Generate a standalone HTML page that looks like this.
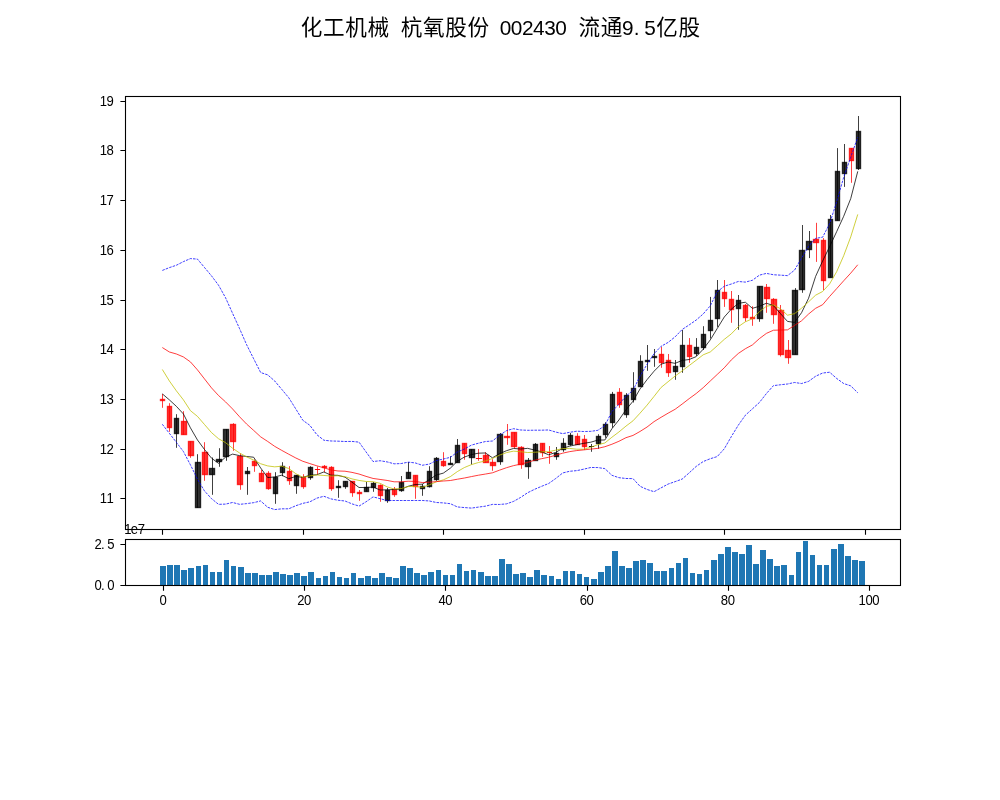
<!DOCTYPE html>
<html lang="zh"><head><meta charset="utf-8"><title>化工机械 杭氧股份 002430</title>
<style>html,body{margin:0;padding:0;background:#fff}svg{display:block}text{font-family:"Liberation Sans","Noto Sans CJK SC",sans-serif;fill:#000}.t{font-size:14.4px}.ln{fill:none;stroke-linejoin:round}</style></head><body>
<svg width="1000" height="800" viewBox="0 0 1000 800">
<rect width="1000" height="800" fill="#fff"/>
<text class="title"><tspan font-size="21.6" y="34.9" x="300.8 323.02 345.24 367.46">化工机械</tspan> <tspan font-size="21.6" y="34.9" x="400.79 423.01 445.23 467.45">杭氧股份</tspan> <tspan font-size="20.8" y="34.9" x="499.75 510.86 521.97 533.08 544.19 555.3">002430</tspan> <tspan font-size="21.6" y="34.9" x="578.55 600.77">流通</tspan><tspan font-size="20.8" y="34.9" x="621.96 633.66 644.18">9.5</tspan><tspan font-size="21.6" y="34.9" x="656.32 678.54">亿股</tspan></text>
<rect x="160" y="566" width="6" height="19" fill="#1f77b4"/>
<rect x="167" y="565" width="6" height="20" fill="#1f77b4"/>
<rect x="174" y="565" width="6" height="20" fill="#1f77b4"/>
<rect x="181" y="570" width="6" height="15" fill="#1f77b4"/>
<rect x="188" y="568" width="6" height="17" fill="#1f77b4"/>
<rect x="196" y="566" width="5" height="19" fill="#1f77b4"/>
<rect x="203" y="565" width="5" height="20" fill="#1f77b4"/>
<rect x="210" y="572" width="5" height="13" fill="#1f77b4"/>
<rect x="217" y="572" width="5" height="13" fill="#1f77b4"/>
<rect x="224" y="560" width="5" height="25" fill="#1f77b4"/>
<rect x="231" y="566" width="5" height="19" fill="#1f77b4"/>
<rect x="238" y="567" width="6" height="18" fill="#1f77b4"/>
<rect x="245" y="573" width="6" height="12" fill="#1f77b4"/>
<rect x="252" y="573" width="6" height="12" fill="#1f77b4"/>
<rect x="259" y="575" width="6" height="10" fill="#1f77b4"/>
<rect x="266" y="575" width="6" height="10" fill="#1f77b4"/>
<rect x="273" y="572" width="6" height="13" fill="#1f77b4"/>
<rect x="280" y="574" width="6" height="11" fill="#1f77b4"/>
<rect x="287" y="575" width="6" height="10" fill="#1f77b4"/>
<rect x="294" y="573" width="6" height="12" fill="#1f77b4"/>
<rect x="301" y="576" width="6" height="9" fill="#1f77b4"/>
<rect x="308" y="572" width="6" height="13" fill="#1f77b4"/>
<rect x="316" y="578" width="5" height="7" fill="#1f77b4"/>
<rect x="323" y="576" width="5" height="9" fill="#1f77b4"/>
<rect x="330" y="572" width="5" height="13" fill="#1f77b4"/>
<rect x="337" y="577" width="5" height="8" fill="#1f77b4"/>
<rect x="344" y="578" width="5" height="7" fill="#1f77b4"/>
<rect x="351" y="573" width="5" height="12" fill="#1f77b4"/>
<rect x="358" y="578" width="6" height="7" fill="#1f77b4"/>
<rect x="365" y="576" width="6" height="9" fill="#1f77b4"/>
<rect x="372" y="578" width="6" height="7" fill="#1f77b4"/>
<rect x="379" y="573" width="6" height="12" fill="#1f77b4"/>
<rect x="386" y="577" width="6" height="8" fill="#1f77b4"/>
<rect x="393" y="578" width="6" height="7" fill="#1f77b4"/>
<rect x="400" y="566" width="6" height="19" fill="#1f77b4"/>
<rect x="407" y="568" width="6" height="17" fill="#1f77b4"/>
<rect x="414" y="573" width="6" height="12" fill="#1f77b4"/>
<rect x="421" y="575" width="6" height="10" fill="#1f77b4"/>
<rect x="428" y="572" width="6" height="13" fill="#1f77b4"/>
<rect x="436" y="570" width="5" height="15" fill="#1f77b4"/>
<rect x="443" y="575" width="5" height="10" fill="#1f77b4"/>
<rect x="450" y="575" width="5" height="10" fill="#1f77b4"/>
<rect x="457" y="564" width="5" height="21" fill="#1f77b4"/>
<rect x="464" y="571" width="5" height="14" fill="#1f77b4"/>
<rect x="471" y="570" width="5" height="15" fill="#1f77b4"/>
<rect x="478" y="572" width="6" height="13" fill="#1f77b4"/>
<rect x="485" y="576" width="6" height="9" fill="#1f77b4"/>
<rect x="492" y="576" width="6" height="9" fill="#1f77b4"/>
<rect x="499" y="559" width="6" height="26" fill="#1f77b4"/>
<rect x="506" y="564" width="6" height="21" fill="#1f77b4"/>
<rect x="513" y="574" width="6" height="11" fill="#1f77b4"/>
<rect x="520" y="573" width="6" height="12" fill="#1f77b4"/>
<rect x="527" y="577" width="6" height="8" fill="#1f77b4"/>
<rect x="534" y="570" width="6" height="15" fill="#1f77b4"/>
<rect x="541" y="575" width="6" height="10" fill="#1f77b4"/>
<rect x="549" y="576" width="5" height="9" fill="#1f77b4"/>
<rect x="556" y="579" width="5" height="6" fill="#1f77b4"/>
<rect x="563" y="571" width="5" height="14" fill="#1f77b4"/>
<rect x="570" y="571" width="5" height="14" fill="#1f77b4"/>
<rect x="577" y="574" width="5" height="11" fill="#1f77b4"/>
<rect x="584" y="577" width="5" height="8" fill="#1f77b4"/>
<rect x="591" y="579" width="6" height="6" fill="#1f77b4"/>
<rect x="598" y="572" width="6" height="13" fill="#1f77b4"/>
<rect x="605" y="566" width="6" height="19" fill="#1f77b4"/>
<rect x="612" y="551" width="6" height="34" fill="#1f77b4"/>
<rect x="619" y="566" width="6" height="19" fill="#1f77b4"/>
<rect x="626" y="568" width="6" height="17" fill="#1f77b4"/>
<rect x="633" y="561" width="6" height="24" fill="#1f77b4"/>
<rect x="640" y="560" width="6" height="25" fill="#1f77b4"/>
<rect x="647" y="563" width="6" height="22" fill="#1f77b4"/>
<rect x="654" y="571" width="6" height="14" fill="#1f77b4"/>
<rect x="661" y="571" width="6" height="14" fill="#1f77b4"/>
<rect x="669" y="568" width="5" height="17" fill="#1f77b4"/>
<rect x="676" y="563" width="5" height="22" fill="#1f77b4"/>
<rect x="683" y="558" width="5" height="27" fill="#1f77b4"/>
<rect x="690" y="573" width="5" height="12" fill="#1f77b4"/>
<rect x="697" y="574" width="5" height="11" fill="#1f77b4"/>
<rect x="704" y="570" width="5" height="15" fill="#1f77b4"/>
<rect x="711" y="560" width="6" height="25" fill="#1f77b4"/>
<rect x="718" y="554" width="6" height="31" fill="#1f77b4"/>
<rect x="725" y="547" width="6" height="38" fill="#1f77b4"/>
<rect x="732" y="552" width="6" height="33" fill="#1f77b4"/>
<rect x="739" y="554" width="6" height="31" fill="#1f77b4"/>
<rect x="746" y="545" width="6" height="40" fill="#1f77b4"/>
<rect x="753" y="564" width="6" height="21" fill="#1f77b4"/>
<rect x="760" y="550" width="6" height="35" fill="#1f77b4"/>
<rect x="767" y="559" width="6" height="26" fill="#1f77b4"/>
<rect x="774" y="566" width="6" height="19" fill="#1f77b4"/>
<rect x="781" y="565" width="6" height="20" fill="#1f77b4"/>
<rect x="789" y="575" width="5" height="10" fill="#1f77b4"/>
<rect x="796" y="552" width="5" height="33" fill="#1f77b4"/>
<rect x="803" y="541" width="5" height="44" fill="#1f77b4"/>
<rect x="810" y="555" width="5" height="30" fill="#1f77b4"/>
<rect x="817" y="565" width="5" height="20" fill="#1f77b4"/>
<rect x="824" y="565" width="5" height="20" fill="#1f77b4"/>
<rect x="831" y="549" width="6" height="36" fill="#1f77b4"/>
<rect x="838" y="544" width="6" height="41" fill="#1f77b4"/>
<rect x="845" y="556" width="6" height="29" fill="#1f77b4"/>
<rect x="852" y="560" width="6" height="25" fill="#1f77b4"/>
<rect x="859" y="561" width="6" height="24" fill="#1f77b4"/>
<rect x="160.5" y="399.5" width="4" height="1" fill="rgba(255,0,0,0.8)" stroke="rgba(255,0,0,0.8)" stroke-width="1.39"/>
<rect x="167.5" y="406.5" width="4" height="21" fill="rgba(255,0,0,0.8)" stroke="rgba(255,0,0,0.8)" stroke-width="1.39"/>
<rect x="174.5" y="418.5" width="4" height="15" fill="rgba(0,0,0,0.8)" stroke="rgba(0,0,0,0.8)" stroke-width="1.39"/>
<rect x="181.5" y="421.5" width="5" height="13" fill="rgba(255,0,0,0.8)" stroke="rgba(255,0,0,0.8)" stroke-width="1.39"/>
<rect x="188.5" y="441.5" width="5" height="14" fill="rgba(255,0,0,0.8)" stroke="rgba(255,0,0,0.8)" stroke-width="1.39"/>
<rect x="195.5" y="462.5" width="5" height="45" fill="rgba(0,0,0,0.8)" stroke="rgba(0,0,0,0.8)" stroke-width="1.39"/>
<rect x="202.5" y="452.5" width="5" height="22" fill="rgba(255,0,0,0.8)" stroke="rgba(255,0,0,0.8)" stroke-width="1.39"/>
<rect x="209.5" y="468.5" width="5" height="6" fill="rgba(0,0,0,0.8)" stroke="rgba(0,0,0,0.8)" stroke-width="1.39"/>
<rect x="216.5" y="459.5" width="5" height="2" fill="rgba(0,0,0,0.8)" stroke="rgba(0,0,0,0.8)" stroke-width="1.39"/>
<rect x="223.5" y="429.5" width="5" height="27" fill="rgba(0,0,0,0.8)" stroke="rgba(0,0,0,0.8)" stroke-width="1.39"/>
<rect x="230.5" y="424.5" width="5" height="17" fill="rgba(255,0,0,0.8)" stroke="rgba(255,0,0,0.8)" stroke-width="1.39"/>
<rect x="237.5" y="456.5" width="5" height="28" fill="rgba(255,0,0,0.8)" stroke="rgba(255,0,0,0.8)" stroke-width="1.39"/>
<rect x="245.5" y="471.5" width="4" height="2" fill="rgba(0,0,0,0.8)" stroke="rgba(0,0,0,0.8)" stroke-width="1.39"/>
<rect x="252.5" y="461.5" width="4" height="4" fill="rgba(255,0,0,0.8)" stroke="rgba(255,0,0,0.8)" stroke-width="1.39"/>
<rect x="259.5" y="473.5" width="4" height="8" fill="rgba(255,0,0,0.8)" stroke="rgba(255,0,0,0.8)" stroke-width="1.39"/>
<rect x="266.5" y="473.5" width="4" height="15" fill="rgba(255,0,0,0.8)" stroke="rgba(255,0,0,0.8)" stroke-width="1.39"/>
<rect x="273.5" y="477.5" width="4" height="16" fill="rgba(0,0,0,0.8)" stroke="rgba(0,0,0,0.8)" stroke-width="1.39"/>
<rect x="280.5" y="466.5" width="4" height="6" fill="rgba(0,0,0,0.8)" stroke="rgba(0,0,0,0.8)" stroke-width="1.39"/>
<rect x="287.5" y="471.5" width="4" height="9" fill="rgba(255,0,0,0.8)" stroke="rgba(255,0,0,0.8)" stroke-width="1.39"/>
<rect x="294.5" y="475.5" width="4" height="10" fill="rgba(0,0,0,0.8)" stroke="rgba(0,0,0,0.8)" stroke-width="1.39"/>
<rect x="301.5" y="477.5" width="4" height="9" fill="rgba(255,0,0,0.8)" stroke="rgba(255,0,0,0.8)" stroke-width="1.39"/>
<rect x="308.5" y="467.5" width="4" height="10" fill="rgba(0,0,0,0.8)" stroke="rgba(0,0,0,0.8)" stroke-width="1.39"/>
<rect x="314.9" y="469" width="5.2" height="1" fill="rgba(255,0,0,0.96)"/>
<rect x="322.5" y="466.5" width="4" height="1" fill="rgba(255,0,0,0.8)" stroke="rgba(255,0,0,0.8)" stroke-width="1.39"/>
<rect x="329.5" y="467.5" width="4" height="21" fill="rgba(255,0,0,0.8)" stroke="rgba(255,0,0,0.8)" stroke-width="1.39"/>
<rect x="336.5" y="486.5" width="4" height="1" fill="rgba(0,0,0,0.8)" stroke="rgba(0,0,0,0.8)" stroke-width="1.39"/>
<rect x="343.5" y="481.5" width="4" height="5" fill="rgba(0,0,0,0.8)" stroke="rgba(0,0,0,0.8)" stroke-width="1.39"/>
<rect x="350.5" y="481.5" width="4" height="11" fill="rgba(255,0,0,0.8)" stroke="rgba(255,0,0,0.8)" stroke-width="1.39"/>
<rect x="357.5" y="492.5" width="4" height="1" fill="rgba(255,0,0,0.8)" stroke="rgba(255,0,0,0.8)" stroke-width="1.39"/>
<rect x="364.5" y="487.5" width="4" height="4" fill="rgba(0,0,0,0.8)" stroke="rgba(0,0,0,0.8)" stroke-width="1.39"/>
<rect x="371.5" y="483.5" width="4" height="4" fill="rgba(0,0,0,0.8)" stroke="rgba(0,0,0,0.8)" stroke-width="1.39"/>
<rect x="378.5" y="485.5" width="4" height="10" fill="rgba(255,0,0,0.8)" stroke="rgba(255,0,0,0.8)" stroke-width="1.39"/>
<rect x="385.5" y="490.5" width="4" height="10" fill="rgba(0,0,0,0.8)" stroke="rgba(0,0,0,0.8)" stroke-width="1.39"/>
<rect x="392.5" y="489.5" width="4" height="5" fill="rgba(255,0,0,0.8)" stroke="rgba(255,0,0,0.8)" stroke-width="1.39"/>
<rect x="399.5" y="482.5" width="4" height="8" fill="rgba(0,0,0,0.8)" stroke="rgba(0,0,0,0.8)" stroke-width="1.39"/>
<rect x="406.5" y="472.5" width="4" height="6" fill="rgba(0,0,0,0.8)" stroke="rgba(0,0,0,0.8)" stroke-width="1.39"/>
<rect x="413.5" y="475.5" width="4" height="11" fill="rgba(255,0,0,0.8)" stroke="rgba(255,0,0,0.8)" stroke-width="1.39"/>
<rect x="420.5" y="486.5" width="4" height="2" fill="rgba(0,0,0,0.8)" stroke="rgba(0,0,0,0.8)" stroke-width="1.39"/>
<rect x="427.5" y="471.5" width="4" height="15" fill="rgba(0,0,0,0.8)" stroke="rgba(0,0,0,0.8)" stroke-width="1.39"/>
<rect x="434.5" y="458.5" width="4" height="21" fill="rgba(0,0,0,0.8)" stroke="rgba(0,0,0,0.8)" stroke-width="1.39"/>
<rect x="441.5" y="461.5" width="4" height="4" fill="rgba(255,0,0,0.8)" stroke="rgba(255,0,0,0.8)" stroke-width="1.39"/>
<rect x="448.5" y="463.5" width="4" height="1" fill="rgba(0,0,0,0.8)" stroke="rgba(0,0,0,0.8)" stroke-width="1.39"/>
<rect x="455.5" y="445.5" width="4" height="17" fill="rgba(0,0,0,0.8)" stroke="rgba(0,0,0,0.8)" stroke-width="1.39"/>
<rect x="462.5" y="443.5" width="4" height="10" fill="rgba(255,0,0,0.8)" stroke="rgba(255,0,0,0.8)" stroke-width="1.39"/>
<rect x="469.5" y="449.5" width="5" height="8" fill="rgba(0,0,0,0.8)" stroke="rgba(0,0,0,0.8)" stroke-width="1.39"/>
<rect x="475.9" y="458" width="6.2" height="1" fill="rgba(255,0,0,0.96)"/>
<rect x="483.5" y="455.5" width="5" height="7" fill="rgba(255,0,0,0.8)" stroke="rgba(255,0,0,0.8)" stroke-width="1.39"/>
<rect x="490.5" y="462.5" width="5" height="3" fill="rgba(255,0,0,0.8)" stroke="rgba(255,0,0,0.8)" stroke-width="1.39"/>
<rect x="497.5" y="434.5" width="5" height="27" fill="rgba(0,0,0,0.8)" stroke="rgba(0,0,0,0.8)" stroke-width="1.39"/>
<rect x="504.5" y="436.5" width="5" height="1" fill="rgba(255,0,0,0.8)" stroke="rgba(255,0,0,0.8)" stroke-width="1.39"/>
<rect x="511.5" y="432.5" width="5" height="14" fill="rgba(255,0,0,0.8)" stroke="rgba(255,0,0,0.8)" stroke-width="1.39"/>
<rect x="518.5" y="447.5" width="5" height="17" fill="rgba(255,0,0,0.8)" stroke="rgba(255,0,0,0.8)" stroke-width="1.39"/>
<rect x="525.5" y="460.5" width="5" height="6" fill="rgba(0,0,0,0.8)" stroke="rgba(0,0,0,0.8)" stroke-width="1.39"/>
<rect x="533.5" y="444.5" width="4" height="16" fill="rgba(0,0,0,0.8)" stroke="rgba(0,0,0,0.8)" stroke-width="1.39"/>
<rect x="540.5" y="443.5" width="4" height="9" fill="rgba(255,0,0,0.8)" stroke="rgba(255,0,0,0.8)" stroke-width="1.39"/>
<rect x="546.9" y="452" width="5.2" height="1" fill="rgba(255,0,0,0.96)"/>
<rect x="554.5" y="453.5" width="4" height="3" fill="rgba(0,0,0,0.8)" stroke="rgba(0,0,0,0.8)" stroke-width="1.39"/>
<rect x="561.5" y="443.5" width="4" height="6" fill="rgba(0,0,0,0.8)" stroke="rgba(0,0,0,0.8)" stroke-width="1.39"/>
<rect x="568.5" y="435.5" width="4" height="9" fill="rgba(0,0,0,0.8)" stroke="rgba(0,0,0,0.8)" stroke-width="1.39"/>
<rect x="575.5" y="436.5" width="4" height="8" fill="rgba(255,0,0,0.8)" stroke="rgba(255,0,0,0.8)" stroke-width="1.39"/>
<rect x="582.5" y="439.5" width="4" height="7" fill="rgba(255,0,0,0.8)" stroke="rgba(255,0,0,0.8)" stroke-width="1.39"/>
<rect x="588.9" y="446" width="5.2" height="1" fill="rgba(0,0,0,0.96)"/>
<rect x="596.5" y="436.5" width="4" height="7" fill="rgba(0,0,0,0.8)" stroke="rgba(0,0,0,0.8)" stroke-width="1.39"/>
<rect x="603.5" y="424.5" width="4" height="10" fill="rgba(0,0,0,0.8)" stroke="rgba(0,0,0,0.8)" stroke-width="1.39"/>
<rect x="610.5" y="394.5" width="4" height="28" fill="rgba(0,0,0,0.8)" stroke="rgba(0,0,0,0.8)" stroke-width="1.39"/>
<rect x="617.5" y="392.5" width="4" height="12" fill="rgba(255,0,0,0.8)" stroke="rgba(255,0,0,0.8)" stroke-width="1.39"/>
<rect x="624.5" y="395.5" width="4" height="19" fill="rgba(0,0,0,0.8)" stroke="rgba(0,0,0,0.8)" stroke-width="1.39"/>
<rect x="631.5" y="388.5" width="4" height="11" fill="rgba(0,0,0,0.8)" stroke="rgba(0,0,0,0.8)" stroke-width="1.39"/>
<rect x="638.5" y="361.5" width="4" height="25" fill="rgba(0,0,0,0.8)" stroke="rgba(0,0,0,0.8)" stroke-width="1.39"/>
<rect x="645.5" y="360.5" width="4" height="1" fill="rgba(0,0,0,0.8)" stroke="rgba(0,0,0,0.8)" stroke-width="1.39"/>
<rect x="652.5" y="356.5" width="4" height="1" fill="rgba(0,0,0,0.8)" stroke="rgba(0,0,0,0.8)" stroke-width="1.39"/>
<rect x="659.5" y="354.5" width="4" height="8" fill="rgba(255,0,0,0.8)" stroke="rgba(255,0,0,0.8)" stroke-width="1.39"/>
<rect x="666.5" y="360.5" width="4" height="12" fill="rgba(255,0,0,0.8)" stroke="rgba(255,0,0,0.8)" stroke-width="1.39"/>
<rect x="673.5" y="366.5" width="4" height="5" fill="rgba(0,0,0,0.8)" stroke="rgba(0,0,0,0.8)" stroke-width="1.39"/>
<rect x="680.5" y="345.5" width="4" height="21" fill="rgba(0,0,0,0.8)" stroke="rgba(0,0,0,0.8)" stroke-width="1.39"/>
<rect x="687.5" y="345.5" width="4" height="11" fill="rgba(255,0,0,0.8)" stroke="rgba(255,0,0,0.8)" stroke-width="1.39"/>
<rect x="694.5" y="347.5" width="4" height="6" fill="rgba(0,0,0,0.8)" stroke="rgba(0,0,0,0.8)" stroke-width="1.39"/>
<rect x="701.5" y="334.5" width="4" height="13" fill="rgba(0,0,0,0.8)" stroke="rgba(0,0,0,0.8)" stroke-width="1.39"/>
<rect x="708.5" y="320.5" width="4" height="10" fill="rgba(0,0,0,0.8)" stroke="rgba(0,0,0,0.8)" stroke-width="1.39"/>
<rect x="715.5" y="290.5" width="4" height="28" fill="rgba(0,0,0,0.8)" stroke="rgba(0,0,0,0.8)" stroke-width="1.39"/>
<rect x="722.5" y="292.5" width="4" height="6" fill="rgba(255,0,0,0.8)" stroke="rgba(255,0,0,0.8)" stroke-width="1.39"/>
<rect x="729.5" y="299.5" width="4" height="10" fill="rgba(255,0,0,0.8)" stroke="rgba(255,0,0,0.8)" stroke-width="1.39"/>
<rect x="736.5" y="300.5" width="4" height="8" fill="rgba(0,0,0,0.8)" stroke="rgba(0,0,0,0.8)" stroke-width="1.39"/>
<rect x="743.5" y="305.5" width="4" height="12" fill="rgba(255,0,0,0.8)" stroke="rgba(255,0,0,0.8)" stroke-width="1.39"/>
<rect x="750.5" y="317.5" width="4" height="1" fill="rgba(255,0,0,0.8)" stroke="rgba(255,0,0,0.8)" stroke-width="1.39"/>
<rect x="757.5" y="286.5" width="5" height="32" fill="rgba(0,0,0,0.8)" stroke="rgba(0,0,0,0.8)" stroke-width="1.39"/>
<rect x="764.5" y="287.5" width="5" height="11" fill="rgba(255,0,0,0.8)" stroke="rgba(255,0,0,0.8)" stroke-width="1.39"/>
<rect x="771.5" y="299.5" width="5" height="15" fill="rgba(255,0,0,0.8)" stroke="rgba(255,0,0,0.8)" stroke-width="1.39"/>
<rect x="778.5" y="310.5" width="5" height="44" fill="rgba(255,0,0,0.8)" stroke="rgba(255,0,0,0.8)" stroke-width="1.39"/>
<rect x="785.5" y="350.5" width="5" height="7" fill="rgba(255,0,0,0.8)" stroke="rgba(255,0,0,0.8)" stroke-width="1.39"/>
<rect x="792.5" y="290.5" width="5" height="64" fill="rgba(0,0,0,0.8)" stroke="rgba(0,0,0,0.8)" stroke-width="1.39"/>
<rect x="799.5" y="250.5" width="5" height="39" fill="rgba(0,0,0,0.8)" stroke="rgba(0,0,0,0.8)" stroke-width="1.39"/>
<rect x="806.5" y="241.5" width="5" height="8" fill="rgba(0,0,0,0.8)" stroke="rgba(0,0,0,0.8)" stroke-width="1.39"/>
<rect x="813.5" y="239.5" width="5" height="3" fill="rgba(255,0,0,0.8)" stroke="rgba(255,0,0,0.8)" stroke-width="1.39"/>
<rect x="821.5" y="240.5" width="4" height="40" fill="rgba(255,0,0,0.8)" stroke="rgba(255,0,0,0.8)" stroke-width="1.39"/>
<rect x="828.5" y="219.5" width="4" height="58" fill="rgba(0,0,0,0.8)" stroke="rgba(0,0,0,0.8)" stroke-width="1.39"/>
<rect x="835.5" y="171.5" width="4" height="49" fill="rgba(0,0,0,0.8)" stroke="rgba(0,0,0,0.8)" stroke-width="1.39"/>
<rect x="842.5" y="162.5" width="4" height="11" fill="rgba(0,0,0,0.8)" stroke="rgba(0,0,0,0.8)" stroke-width="1.39"/>
<rect x="849.5" y="148.5" width="4" height="12" fill="rgba(255,0,0,0.8)" stroke="rgba(255,0,0,0.8)" stroke-width="1.39"/>
<rect x="856.5" y="131.5" width="4" height="37" fill="rgba(0,0,0,0.8)" stroke="rgba(0,0,0,0.8)" stroke-width="1.39"/>
<line x1="162.5" y1="394" x2="162.5" y2="407.8" stroke="#f00" stroke-width="0.75"/>
<line x1="169.5" y1="403.2" x2="169.5" y2="431.8" stroke="#f00" stroke-width="0.75"/>
<line x1="176.5" y1="414.2" x2="176.5" y2="447.8" stroke="#000" stroke-width="0.75"/>
<line x1="183.5" y1="411.2" x2="183.5" y2="434.8" stroke="#f00" stroke-width="0.75"/>
<line x1="190.5" y1="441.2" x2="190.5" y2="457.8" stroke="#f00" stroke-width="0.75"/>
<line x1="197.5" y1="454.2" x2="197.5" y2="507.8" stroke="#000" stroke-width="0.75"/>
<line x1="204.5" y1="442.2" x2="204.5" y2="480.8" stroke="#f00" stroke-width="0.75"/>
<line x1="212.5" y1="457.5" x2="212.5" y2="494.8" stroke="#000" stroke-width="0.75"/>
<line x1="219.5" y1="448.2" x2="219.5" y2="466.8" stroke="#000" stroke-width="0.75"/>
<line x1="226.5" y1="429.2" x2="226.5" y2="460.8" stroke="#000" stroke-width="0.75"/>
<line x1="233.5" y1="423.2" x2="233.5" y2="450.8" stroke="#f00" stroke-width="0.75"/>
<line x1="240.5" y1="453.5" x2="240.5" y2="489.8" stroke="#f00" stroke-width="0.75"/>
<line x1="247.5" y1="467" x2="247.5" y2="494.8" stroke="#000" stroke-width="0.75"/>
<line x1="254.5" y1="459.5" x2="254.5" y2="471.8" stroke="#f00" stroke-width="0.75"/>
<line x1="261.5" y1="470" x2="261.5" y2="481.5" stroke="#f00" stroke-width="0.75"/>
<line x1="268.5" y1="471.2" x2="268.5" y2="489.8" stroke="#f00" stroke-width="0.75"/>
<line x1="275.5" y1="472.2" x2="275.5" y2="503.8" stroke="#000" stroke-width="0.75"/>
<line x1="282.5" y1="462.2" x2="282.5" y2="476.2" stroke="#000" stroke-width="0.75"/>
<line x1="289.5" y1="466.2" x2="289.5" y2="484.8" stroke="#f00" stroke-width="0.75"/>
<line x1="296.5" y1="475" x2="296.5" y2="493.8" stroke="#000" stroke-width="0.75"/>
<line x1="303.5" y1="474.2" x2="303.5" y2="488.8" stroke="#f00" stroke-width="0.75"/>
<line x1="310.5" y1="466.2" x2="310.5" y2="479.8" stroke="#000" stroke-width="0.75"/>
<line x1="317.5" y1="466.5" x2="317.5" y2="474.5" stroke="#f00" stroke-width="0.75"/>
<line x1="324.5" y1="465" x2="324.5" y2="472.2" stroke="#f00" stroke-width="0.75"/>
<line x1="331.5" y1="466.2" x2="331.5" y2="490.8" stroke="#f00" stroke-width="0.75"/>
<line x1="338.5" y1="480.2" x2="338.5" y2="497.8" stroke="#000" stroke-width="0.75"/>
<line x1="345.5" y1="481.2" x2="345.5" y2="488.8" stroke="#000" stroke-width="0.75"/>
<line x1="352.5" y1="481.2" x2="352.5" y2="496.8" stroke="#f00" stroke-width="0.75"/>
<line x1="359.5" y1="490" x2="359.5" y2="500.8" stroke="#f00" stroke-width="0.75"/>
<line x1="366.5" y1="482" x2="366.5" y2="491.5" stroke="#000" stroke-width="0.75"/>
<line x1="373.5" y1="482" x2="373.5" y2="491.8" stroke="#000" stroke-width="0.75"/>
<line x1="380.5" y1="484.5" x2="380.5" y2="501.8" stroke="#f00" stroke-width="0.75"/>
<line x1="387.5" y1="488" x2="387.5" y2="502.8" stroke="#000" stroke-width="0.75"/>
<line x1="394.5" y1="487" x2="394.5" y2="496.8" stroke="#f00" stroke-width="0.75"/>
<line x1="401.5" y1="476" x2="401.5" y2="491.8" stroke="#000" stroke-width="0.75"/>
<line x1="408.5" y1="462" x2="408.5" y2="478.5" stroke="#000" stroke-width="0.75"/>
<line x1="415.5" y1="475.2" x2="415.5" y2="498.8" stroke="#f00" stroke-width="0.75"/>
<line x1="422.5" y1="484" x2="422.5" y2="495.8" stroke="#000" stroke-width="0.75"/>
<line x1="429.5" y1="466.2" x2="429.5" y2="487.5" stroke="#000" stroke-width="0.75"/>
<line x1="436.5" y1="457" x2="436.5" y2="480.8" stroke="#000" stroke-width="0.75"/>
<line x1="443.5" y1="452.2" x2="443.5" y2="466.8" stroke="#f00" stroke-width="0.75"/>
<line x1="450.5" y1="456.2" x2="450.5" y2="464.5" stroke="#000" stroke-width="0.75"/>
<line x1="457.5" y1="439" x2="457.5" y2="462.5" stroke="#000" stroke-width="0.75"/>
<line x1="464.5" y1="443.2" x2="464.5" y2="459.8" stroke="#f00" stroke-width="0.75"/>
<line x1="471.5" y1="449.2" x2="471.5" y2="464.5" stroke="#000" stroke-width="0.75"/>
<line x1="478.5" y1="449" x2="478.5" y2="460.8" stroke="#f00" stroke-width="0.75"/>
<line x1="485.5" y1="452.2" x2="485.5" y2="462.5" stroke="#f00" stroke-width="0.75"/>
<line x1="492.5" y1="459.2" x2="492.5" y2="470.8" stroke="#f00" stroke-width="0.75"/>
<line x1="500.5" y1="433" x2="500.5" y2="464.8" stroke="#000" stroke-width="0.75"/>
<line x1="507.5" y1="424" x2="507.5" y2="444.8" stroke="#f00" stroke-width="0.75"/>
<line x1="514.5" y1="432.2" x2="514.5" y2="448" stroke="#f00" stroke-width="0.75"/>
<line x1="521.5" y1="446.2" x2="521.5" y2="468.8" stroke="#f00" stroke-width="0.75"/>
<line x1="528.5" y1="458" x2="528.5" y2="478.8" stroke="#000" stroke-width="0.75"/>
<line x1="535.5" y1="443" x2="535.5" y2="460.5" stroke="#000" stroke-width="0.75"/>
<line x1="542.5" y1="443.2" x2="542.5" y2="456.8" stroke="#f00" stroke-width="0.75"/>
<line x1="549.5" y1="446" x2="549.5" y2="463.8" stroke="#f00" stroke-width="0.75"/>
<line x1="556.5" y1="447" x2="556.5" y2="459.8" stroke="#000" stroke-width="0.75"/>
<line x1="563.5" y1="438.2" x2="563.5" y2="451.8" stroke="#000" stroke-width="0.75"/>
<line x1="570.5" y1="433" x2="570.5" y2="445.8" stroke="#000" stroke-width="0.75"/>
<line x1="577.5" y1="433.2" x2="577.5" y2="444.5" stroke="#f00" stroke-width="0.75"/>
<line x1="584.5" y1="435" x2="584.5" y2="449.8" stroke="#f00" stroke-width="0.75"/>
<line x1="591.5" y1="444" x2="591.5" y2="451.8" stroke="#000" stroke-width="0.75"/>
<line x1="598.5" y1="434.2" x2="598.5" y2="448.8" stroke="#000" stroke-width="0.75"/>
<line x1="605.5" y1="422.2" x2="605.5" y2="437.8" stroke="#000" stroke-width="0.75"/>
<line x1="612.5" y1="391.9" x2="612.5" y2="427.8" stroke="#000" stroke-width="0.75"/>
<line x1="619.5" y1="388.1" x2="619.5" y2="407.8" stroke="#f00" stroke-width="0.75"/>
<line x1="626.5" y1="393.1" x2="626.5" y2="417.8" stroke="#000" stroke-width="0.75"/>
<line x1="633.5" y1="372.2" x2="633.5" y2="402.5" stroke="#000" stroke-width="0.75"/>
<line x1="640.5" y1="355.2" x2="640.5" y2="386.5" stroke="#000" stroke-width="0.75"/>
<line x1="647.5" y1="345" x2="647.5" y2="370.8" stroke="#000" stroke-width="0.75"/>
<line x1="654.5" y1="349" x2="654.5" y2="366.8" stroke="#000" stroke-width="0.75"/>
<line x1="661.5" y1="346.9" x2="661.5" y2="367.8" stroke="#f00" stroke-width="0.75"/>
<line x1="668.5" y1="354" x2="668.5" y2="376.9" stroke="#f00" stroke-width="0.75"/>
<line x1="675.5" y1="360" x2="675.5" y2="379.8" stroke="#000" stroke-width="0.75"/>
<line x1="682.5" y1="330" x2="682.5" y2="372.8" stroke="#000" stroke-width="0.75"/>
<line x1="689.5" y1="338.1" x2="689.5" y2="362.8" stroke="#f00" stroke-width="0.75"/>
<line x1="696.5" y1="338.1" x2="696.5" y2="356" stroke="#000" stroke-width="0.75"/>
<line x1="703.5" y1="326.2" x2="703.5" y2="350" stroke="#000" stroke-width="0.75"/>
<line x1="710.5" y1="296.9" x2="710.5" y2="338.5" stroke="#000" stroke-width="0.75"/>
<line x1="717.5" y1="280" x2="717.5" y2="326.9" stroke="#000" stroke-width="0.75"/>
<line x1="724.5" y1="280" x2="724.5" y2="306.9" stroke="#f00" stroke-width="0.75"/>
<line x1="731.5" y1="291" x2="731.5" y2="322.8" stroke="#f00" stroke-width="0.75"/>
<line x1="738.5" y1="295" x2="738.5" y2="329.8" stroke="#000" stroke-width="0.75"/>
<line x1="745.5" y1="304" x2="745.5" y2="321.5" stroke="#f00" stroke-width="0.75"/>
<line x1="752.5" y1="306.2" x2="752.5" y2="325.8" stroke="#f00" stroke-width="0.75"/>
<line x1="759.5" y1="286.2" x2="759.5" y2="321.8" stroke="#000" stroke-width="0.75"/>
<line x1="766.5" y1="284" x2="766.5" y2="312.8" stroke="#f00" stroke-width="0.75"/>
<line x1="773.5" y1="298.1" x2="773.5" y2="323.8" stroke="#f00" stroke-width="0.75"/>
<line x1="780.5" y1="305" x2="780.5" y2="356.5" stroke="#f00" stroke-width="0.75"/>
<line x1="788.5" y1="340" x2="788.5" y2="363.8" stroke="#f00" stroke-width="0.75"/>
<line x1="795.5" y1="288.1" x2="795.5" y2="354.5" stroke="#000" stroke-width="0.75"/>
<line x1="802.5" y1="225" x2="802.5" y2="292.8" stroke="#000" stroke-width="0.75"/>
<line x1="809.5" y1="231" x2="809.5" y2="258.1" stroke="#000" stroke-width="0.75"/>
<line x1="816.5" y1="222.8" x2="816.5" y2="261.9" stroke="#f00" stroke-width="0.75"/>
<line x1="823.5" y1="238.1" x2="823.5" y2="290" stroke="#f00" stroke-width="0.75"/>
<line x1="830.5" y1="215" x2="830.5" y2="277.5" stroke="#000" stroke-width="0.75"/>
<line x1="837.5" y1="148.1" x2="837.5" y2="220.5" stroke="#000" stroke-width="0.75"/>
<line x1="844.5" y1="144" x2="844.5" y2="186.9" stroke="#000" stroke-width="0.75"/>
<line x1="851.5" y1="148.1" x2="851.5" y2="182.8" stroke="#f00" stroke-width="0.75"/>
<line x1="858.5" y1="116" x2="858.5" y2="170" stroke="#000" stroke-width="0.75"/>
<path class="ln" d="M162.33 393.86 L169.36 399.87 L176.38 406.35 L183.41 413.94 L190.43 427.83 L197.46 439.94 L204.48 449.48 L211.51 458.15 L218.53 463.34 L225.55 457.18 L232.58 454.11 L239.6 455.65 L246.63 456.48 L253.65 457.23 L260.68 468 L267.7 477.58 L274.72 476.94 L281.75 475.18 L288.77 478.71 L295.8 476.43 L302.82 477.39 L309.85 475.27 L316.87 474.71 L323.9 471.94 L330.92 475.18 L337.94 475.34 L344.97 477.12 L351.99 482.14 L359.02 487.5 L366.04 487.52 L373.07 487.03 L380.09 490.01 L387.11 489.82 L394.14 489.53 L401.16 489.13 L408.19 486.28 L415.21 484.52 L422.24 484.17 L429.26 479.65 L436.29 475.06 L443.31 473.14 L450.33 468.16 L457.36 461.28 L464.38 457.04 L471.41 454.58 L478.43 453.2 L485.46 452.96 L492.48 457.81 L499.5 453.71 L506.53 450.69 L513.55 448.45 L520.58 449.04 L527.6 448.35 L534.63 450.06 L541.65 451.92 L548.68 454.79 L555.7 452.46 L562.72 448.22 L569.75 446.16 L576.77 444.64 L583.8 443.32 L590.82 442.19 L597.85 440.09 L604.87 439.99 L611.89 428.77 L618.92 419.97 L625.94 409.8 L632.97 401.26 L639.99 389.01 L647.02 379.68 L654.04 371.22 L661.07 364.19 L668.09 362.01 L675.11 363.35 L682.14 360.42 L689.16 359.5 L696.19 356.61 L703.21 349.19 L710.24 339.95 L717.26 328.46 L724.28 317.02 L731.31 309.19 L738.33 303.37 L745.36 302.24 L752.38 308.32 L759.41 306.25 L766.43 303.22 L773.46 305.6 L780.48 313.63 L787.5 321.4 L794.53 322.45 L801.55 312.69 L808.58 298.24 L815.6 276.41 L822.63 260.99 L829.65 246.61 L836.68 231.62 L843.7 216.25 L850.72 198.61 L857.75 171.36" stroke="#000" stroke-width="0.76"/>
<path class="ln" d="M162.33 369.49 L169.36 380.94 L176.38 390.85 L183.41 399.86 L190.43 410.66 L197.46 416.39 L204.48 424.48 L211.51 432.58 L218.53 438.73 L225.55 442.65 L232.58 448.22 L239.6 453.01 L246.63 456.9 L253.65 460.08 L260.68 463.76 L267.7 465.91 L274.72 466.83 L281.75 466.23 L288.77 468.48 L295.8 473.68 L302.82 477.34 L309.85 475.87 L316.87 474.96 L323.9 475.46 L330.92 476.02 L337.94 475.72 L344.97 476.63 L351.99 478.89 L359.02 480.43 L366.04 481.48 L373.07 481.69 L380.09 483.3 L387.11 486.89 L394.14 489.03 L401.16 488.6 L408.19 486.5 L415.21 486.47 L422.24 487.29 L429.26 484.9 L436.29 481.86 L443.31 479.89 L450.33 476.62 L457.36 471.58 L464.38 467.55 L471.41 464.62 L478.43 462.52 L485.46 460.92 L492.48 458.51 L499.5 455.17 L506.53 452.62 L513.55 451.14 L520.58 451.74 L527.6 452.52 L534.63 452.25 L541.65 451.84 L548.68 451.68 L555.7 450.17 L562.72 448.5 L569.75 448.42 L576.77 449.22 L583.8 449.2 L590.82 447.24 L597.85 444.69 L604.87 443.01 L611.89 437.26 L618.92 431.98 L625.94 426.11 L632.97 420.85 L639.99 413.21 L647.02 405.18 L654.04 396.42 L661.07 387.46 L668.09 381.73 L675.11 376.07 L682.14 370.88 L689.16 365.56 L696.19 360.23 L703.21 354.81 L710.24 351.98 L717.26 345.77 L724.28 339.37 L731.31 333.89 L738.33 326.65 L745.36 321.75 L752.38 318.81 L759.41 311.7 L766.43 306.27 L773.46 304.95 L780.48 308.78 L787.5 315.2 L794.53 313.66 L801.55 308.2 L808.58 301.82 L815.6 295.2 L822.63 291.5 L829.65 283.84 L836.68 271.68 L843.7 255.71 L850.72 236.88 L857.75 214.41" stroke="#bfbf00" stroke-width="0.76"/>
<path class="ln" d="M162.33 347.56 L169.36 351.98 L176.38 353.97 L183.41 356.94 L190.43 361.9 L197.46 369.88 L204.48 378.87 L211.51 387.89 L218.53 395.5 L225.55 401.88 L232.58 408.97 L239.6 416.81 L246.63 424.1 L253.65 430.4 L260.68 436.86 L267.7 441.45 L274.72 446.36 L281.75 450.39 L288.77 454.22 L295.8 457.98 L302.82 461.28 L309.85 463.59 L316.87 465.82 L323.9 467.83 L330.92 469.92 L337.94 470.98 L344.97 471.21 L351.99 472.38 L359.02 474.04 L366.04 476.37 L373.07 478.44 L380.09 479.44 L387.11 480.43 L394.14 481.8 L401.16 481.83 L408.19 481.19 L415.21 481.46 L422.24 482.51 L429.26 482.22 L436.29 481.62 L443.31 481.01 L450.33 480.53 L457.36 479.22 L464.38 478.02 L471.41 476.58 L478.43 475.21 L485.46 474.06 L492.48 472.81 L499.5 470.17 L506.53 467.69 L513.55 465.64 L520.58 464.16 L527.6 462.38 L534.63 460.19 L541.65 458.68 L548.68 457.24 L555.7 455.23 L562.72 453.17 L569.75 451.61 L576.77 450.57 L583.8 449.88 L590.82 449.08 L597.85 448.36 L604.87 446.72 L611.89 444.26 L618.92 441.29 L625.94 437.69 L632.97 435.45 L639.99 431.49 L647.02 427.06 L654.04 421.64 L661.07 417.3 L668.09 413.18 L675.11 409.27 L682.14 404.09 L689.16 398.65 L696.19 393.5 L703.21 387.65 L710.24 381.02 L717.26 374.41 L724.28 367.79 L731.31 359.92 L738.33 353.44 L745.36 348.72 L752.38 344.94 L759.41 338.6 L766.43 333.37 L773.46 330.22 L780.48 330.07 L787.5 329.87 L794.53 325.48 L801.55 320.8 L808.58 314.02 L815.6 308.3 L822.63 304.71 L829.65 296.43 L836.68 288.61 L843.7 280.77 L850.72 273.13 L857.75 264.75" stroke="#f00" stroke-width="0.76"/>
<path class="ln" d="M162.33 270.43 L169.36 267.62 L176.38 265.24 L183.41 261.64 L190.43 258.59 L197.46 259.09 L204.48 267.48 L211.51 275.86 L218.53 285.2 L225.55 297.74 L232.58 313.33 L239.6 328.71 L246.63 344.74 L253.65 358.73 L260.68 372.55 L267.7 374.87 L274.72 380.99 L281.75 389.37 L288.77 397.72 L295.8 408.96 L302.82 420.28 L309.85 425.33 L316.87 434.71 L323.9 440.23 L330.92 440.98 L337.94 441.17 L344.97 441.5 L351.99 441.41 L359.02 442.13 L366.04 451.91 L373.07 461.54 L380.09 460.73 L387.11 461.9 L394.14 463.82 L401.16 463.56 L408.19 462.16 L415.21 462.91 L422.24 465.25 L429.26 464.12 L436.29 460.55 L443.31 459.05 L450.33 457.32 L457.36 452.06 L464.38 449.06 L471.41 445.11 L478.43 443.22 L485.46 441.53 L492.48 441.02 L499.5 435.31 L506.53 430.66 L513.55 428.69 L520.58 429.97 L527.6 430.31 L534.63 430.2 L541.65 430.2 L548.68 429.96 L555.7 432.05 L562.72 433.64 L569.75 432.31 L576.77 431.17 L583.8 431.53 L590.82 431.34 L597.85 430.31 L604.87 425.71 L611.89 411.54 L618.92 404.27 L625.94 396.22 L632.97 390.38 L639.99 376.21 L647.02 364.37 L654.04 353.72 L661.07 346.32 L668.09 342.44 L675.11 336.84 L682.14 329.5 L689.16 324.93 L696.19 320.04 L703.21 313.94 L710.24 305.84 L717.26 291.75 L724.28 286.22 L731.31 284.03 L738.33 281.46 L745.36 282.12 L752.38 280.29 L759.41 275.15 L766.43 273.38 L773.46 274.75 L780.48 275.15 L787.5 275.64 L794.53 270.18 L801.55 257.99 L808.58 246.42 L815.6 238.33 L822.63 237.19 L829.65 223.58 L836.68 201.77 L843.7 177.29 L850.72 157.21 L857.75 137.2" stroke="#00f" stroke-width="0.76" stroke-dasharray="2.57 1.11"/>
<path class="ln" d="M162.33 424.29 L169.36 433.32 L176.38 442.35 L183.41 451.53 L190.43 464.86 L197.46 479.11 L204.48 490.94 L211.51 498.65 L218.53 504.34 L225.55 504.1 L232.58 502.48 L239.6 504.34 L246.63 503.62 L253.65 502.67 L260.68 500.93 L267.7 507.27 L274.72 509.58 L281.75 508.83 L288.77 508.81 L295.8 505.73 L302.82 503.36 L309.85 501.83 L316.87 498.13 L323.9 496.28 L330.92 498.89 L337.94 500.23 L344.97 500.99 L351.99 503.87 L359.02 506.1 L366.04 501.79 L373.07 496.89 L380.09 498.7 L387.11 500.5 L394.14 500.5 L401.16 500.5 L408.19 500.5 L415.21 500.5 L422.24 500.48 L429.26 500.95 L436.29 502.49 L443.31 502.9 L450.33 503.7 L457.36 506.94 L464.38 507.56 L471.41 508.1 L478.43 507.1 L485.46 506.16 L492.48 504.4 L499.5 504.48 L506.53 503.86 L513.55 501.4 L520.58 497.46 L527.6 492.74 L534.63 489.3 L541.65 486.3 L548.68 483.5 L555.7 478.52 L562.72 472.95 L569.75 471.27 L576.77 470.63 L583.8 469.15 L590.82 467.48 L597.85 467.56 L604.87 468.63 L611.89 475.31 L618.92 477.68 L625.94 478.49 L632.97 478.61 L639.99 486.25 L647.02 489.45 L654.04 491.69 L661.07 487.86 L668.09 484.08 L675.11 481.64 L682.14 479.08 L689.16 472.87 L696.19 466.42 L703.21 461.55 L710.24 458.73 L717.26 456.56 L724.28 448.81 L731.31 436.62 L738.33 425.16 L745.36 415.22 L752.38 408.86 L759.41 402.49 L766.43 393.52 L773.46 385.64 L780.48 384.76 L787.5 384 L794.53 382.47 L801.55 383.54 L808.58 381.38 L815.6 376.25 L822.63 373.04 L829.65 372.22 L836.68 378.46 L843.7 383.54 L850.72 385.86 L857.75 392.77" stroke="#00f" stroke-width="0.76" stroke-dasharray="2.57 1.11"/>
<rect x="125.5" y="96.5" width="775" height="433" fill="none" stroke="#000" stroke-width="1.1"/>
<rect x="125.5" y="539.5" width="775" height="46" fill="none" stroke="#000" stroke-width="1.1"/>
<path d="M120.4 101.5 H125.5 M120.4 150.5 H125.5 M120.4 200.5 H125.5 M120.4 250.5 H125.5 M120.4 300.5 H125.5 M120.4 349.5 H125.5 M120.4 399.5 H125.5 M120.4 449.5 H125.5 M120.4 498.5 H125.5 M162.5 529.5 V534.7 M303.5 529.5 V534.7 M443.5 529.5 V534.7 M584.5 529.5 V534.7 M724.5 529.5 V534.7 M865.5 529.5 V534.7 M120.4 544.5 H125.5 M120.4 585.5 H125.5 M163.5 585.5 V590.7 M304.5 585.5 V590.7 M445.5 585.5 V590.7 M587.5 585.5 V590.7 M728.5 585.5 V590.7 M869.5 585.5 V590.7" stroke="#000" stroke-width="1.1" fill="none"/>
<text class="t" transform="scale(0.91,1)" y="106.05" x="109.73 117.1">19</text>
<text class="t" transform="scale(0.91,1)" y="155.05" x="109.73 117.1">18</text>
<text class="t" transform="scale(0.91,1)" y="205.05" x="109.73 117.1">17</text>
<text class="t" transform="scale(0.91,1)" y="255.05" x="109.73 117.1">16</text>
<text class="t" transform="scale(0.91,1)" y="305.05" x="109.73 117.1">15</text>
<text class="t" transform="scale(0.91,1)" y="354.05" x="109.73 117.1">14</text>
<text class="t" transform="scale(0.91,1)" y="404.05" x="109.73 117.1">13</text>
<text class="t" transform="scale(0.91,1)" y="454.05" x="109.73 117.1">12</text>
<text class="t" transform="scale(0.91,1)" y="503.05" x="109.73 117.1">11</text>
<text class="t" transform="scale(0.91,1)" y="549.05" x="103.8 110.97 117.86">2.5</text>
<text class="t" transform="scale(0.91,1)" y="590.05" x="103.8 110.97 117.86">0.0</text>
<text class="t" transform="scale(0.91,1)" y="605" x="175.28">0</text>
<text class="t" transform="scale(0.91,1)" y="605" x="326.63 334.16">20</text>
<text class="t" transform="scale(0.91,1)" y="605" x="481.79 489.32">40</text>
<text class="t" transform="scale(0.91,1)" y="605" x="636.96 644.49">60</text>
<text class="t" transform="scale(0.91,1)" y="605" x="792.12 799.65">80</text>
<text class="t" transform="scale(0.91,1)" y="605" x="943.52 951.05 958.58">100</text>
<text class="t" transform="scale(0.91,1)" y="533.75" x="136.55 143.8 151.27">1e7</text>
</svg></body></html>
